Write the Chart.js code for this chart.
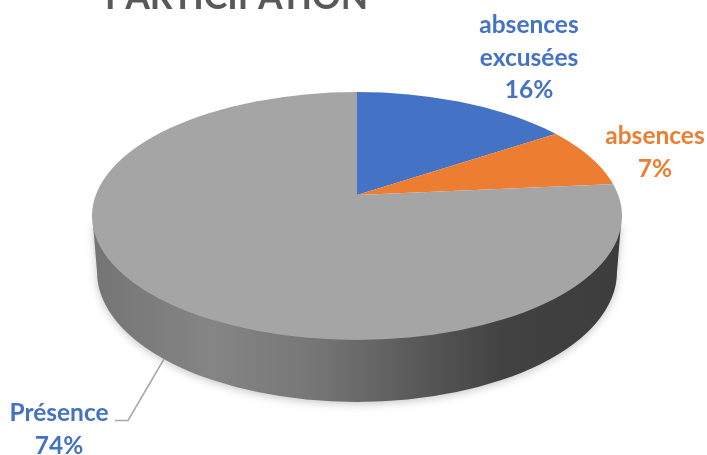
<!DOCTYPE html>
<html><head><meta charset="utf-8">
<style>html,body{margin:0;padding:0;background:#fff}canvas{display:block}</style>
<script src="https://cdn.jsdelivr.net/npm/chart.js@4/dist/chart.umd.min.js"></script>
</head><body><canvas id="c" width="707" height="455"></canvas>
<script>
const titleText = 'PARTICIPATION';
const categories = ['absences excusées', 'absences', 'Présence'];
const values = [16, 7, 74];
const colors = ['#4472C4', '#ED7D31', '#A5A5A5'];
const labelX = [529, 655, 59];
const labelY = [33, 144, 421];
const labelLineHeight = 32.5;

const FONT = 'Lato, "Open Sans", sans-serif';
const face = {cx: 357, cy: 216, rx: 265, ry: 124};
const base = {cx: 357, cy: 272, rx: 260, ry: 130};
const tilt = 0.52;

const scene = {
  id: 'scene',
  beforeDatasetsDraw(chart) {
    const ctx = chart.ctx;
    const g = ctx.createLinearGradient(base.cx - base.rx, 0, base.cx + base.rx, 0);
    g.addColorStop(0, '#757575');
    g.addColorStop(0.22, '#858585');
    g.addColorStop(0.42, '#767676');
    g.addColorStop(0.62, '#585858');
    g.addColorStop(0.78, '#424242');
    g.addColorStop(1, '#3d3d3d');
    ctx.save();
    ctx.shadowColor = 'rgba(0,0,0,0.22)';
    ctx.shadowBlur = 9;
    ctx.shadowOffsetY = 2;
    ctx.fillStyle = g;
    ctx.beginPath();
    ctx.moveTo(face.cx - face.rx + 1, face.cy + 8);
    ctx.lineTo(base.cx - base.rx, base.cy);
    ctx.ellipse(base.cx, base.cy, base.rx, base.ry, 0, Math.PI, 0, true);
    ctx.lineTo(face.cx + face.rx - 1, face.cy + 8);
    ctx.closePath();
    ctx.fill();
    ctx.restore();

    const meta = chart.getDatasetMeta(0).data[0];
    ctx.save();
    ctx.beginPath();
    ctx.ellipse(face.cx, face.cy, face.rx, face.ry, 0, 0, Math.PI * 2);
    ctx.clip();
    ctx.translate(meta.x, meta.y);
    ctx.scale(1, tilt);
    ctx.translate(-meta.x, -meta.y);
  },
  afterDatasetsDraw(chart) {
    const ctx = chart.ctx;
    ctx.restore();

    ctx.save();
    ctx.strokeStyle = '#a6a6a6';
    ctx.lineWidth = 1.5;
    ctx.beginPath();
    ctx.moveTo(164, 359);
    ctx.lineTo(128, 420.5);
    ctx.lineTo(115, 420.5);
    ctx.stroke();

    ctx.fillStyle = '#595959';
    ctx.font = 'bold 35.5px ' + FONT;
    ctx.textAlign = 'left';
    ctx.textBaseline = 'alphabetic';
    ctx.fillText(titleText, 105, 9);

    ctx.font = 'bold 24.5px ' + FONT;
    ctx.textAlign = 'center';
    categories.forEach((name, i) => {
      const lines = name.split(' ').concat(values[i] + '%');
      ctx.fillStyle = i === 2 ? colors[0] : colors[i];
      lines.forEach((t, j) => ctx.fillText(t, labelX[i], labelY[i] + j * labelLineHeight));
    });
    ctx.restore();
  }
};

new Chart(document.getElementById('c'), {
  type: 'pie',
  data: {
    labels: categories,
    datasets: [{
      data: values,
      backgroundColor: colors,
      borderWidth: 0,
      clip: false,
      radius: 330
    }]
  },
  options: {
    responsive: false,
    animation: false,
    devicePixelRatio: 1,
    layout: {padding: {left: 7, right: 0, top: 0, bottom: 65}},
    plugins: {legend: {display: false}, tooltip: {enabled: false}}
  },
  plugins: [scene]
});
</script></body></html>
